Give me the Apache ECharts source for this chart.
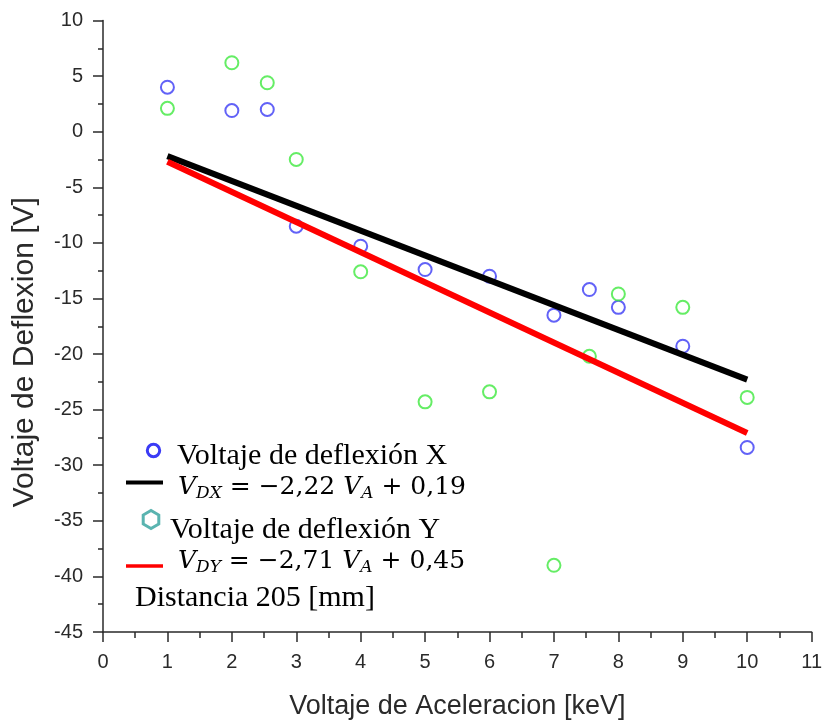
<!DOCTYPE html>
<html>
<head>
<meta charset="utf-8">
<script src="https://cdn.jsdelivr.net/npm/echarts@6/dist/echarts.min.js"></script>
<style>html,body{margin:0;padding:0;background:#fff}#c{width:825px;height:725px}</style>
</head>
<body>
<div id="c"></div>
<script>
// Data
var xValsX = [1, 2, 2.55, 3, 4, 5, 6, 7, 7.55, 8, 9, 10];
var yValsX = [4, 1.9, 2.0, -8.5, -10.3, -12.4, -13.0, -16.5, -14.2, -15.8, -19.3, -28.4];
var xValsY = [1, 2, 2.55, 3, 4, 5, 6, 7, 7.55, 8, 9, 10];
var yValsY = [2.1, 6.2, 4.4, -2.5, -12.6, -24.3, -23.4, -39.0, -20.2, -14.6, -15.8, -23.9];
var fitX = [[1, -2.2], [10, -22.3]];
var fitY = [[1, -2.7], [10, -27.1]];
var xTicks = {min: 0, max: 11, interval: 1};
var yTicks = {min: -45, max: 10, interval: 5};
var xTitle = 'Voltaje de Aceleracion [keV]';
var yTitle = 'Voltaje de Deflexion [V]';
var legendLabels = ['Voltaje de deflexión X', 'Voltaje de deflexión Y', 'Distancia 205 [mm]'];
var formulaX = '{v|V}{s|DX}{n| = −2,22 }{v|V}{s|A}{n| + 0,19}';
var formulaY = '{v|V}{s|DY}{n| = −2,71 }{v|V}{s|A}{n| + 0,45}';

function pairs(xs, ys) { return xs.map(function (x, i) { return [x, ys[i]]; }); }

var chart = echarts.init(document.getElementById('c'), null, {renderer: 'canvas'});

var sans = 'Liberation Sans, Arial, sans-serif';
var axisCol = '#2a2a2a';
var rich = {
  v: {fontFamily: 'DejaVu Serif', fontStyle: 'italic', fontSize: 25, color: '#000', lineHeight: 30},
  s: {fontFamily: 'DejaVu Serif', fontStyle: 'italic', fontSize: 17, color: '#000', lineHeight: 14, verticalAlign: 'bottom'},
  n: {fontFamily: 'DejaVu Serif', fontSize: 25, color: '#000', lineHeight: 30}
};

var hex = [];
for (var k = 0; k < 6; k++) {
  var a = Math.PI / 6 + k * Math.PI / 3;
  hex.push([151 + 9 * Math.cos(a), 519.5 + 9 * Math.sin(a)]);
}

chart.setOption({
  animation: false,
  backgroundColor: '#fff',
  grid: {left: 103, right: 9, top: 20.5, bottom: 92.5, containLabel: false},
  xAxis: {
    type: 'value', min: xTicks.min, max: xTicks.max, interval: xTicks.interval,
    name: xTitle, nameLocation: 'middle', nameGap: 61,
    nameTextStyle: {fontFamily: sans, fontSize: 27, color: axisCol},
    axisLine: {show: true, onZero: false, lineStyle: {color: axisCol, width: 1.5}},
    axisTick: {show: true, inside: false, length: 10, lineStyle: {color: axisCol, width: 1.5}},
    minorTick: {show: true, splitNumber: 2, length: 6, lineStyle: {color: axisCol, width: 1.5}},
    axisLabel: {margin: 20, fontFamily: sans, fontSize: 20, color: axisCol},
    splitLine: {show: false}
  },
  yAxis: {
    type: 'value', min: yTicks.min, max: yTicks.max, interval: yTicks.interval,
    name: yTitle, nameLocation: 'middle', nameGap: 63,
    nameTextStyle: {fontFamily: sans, fontSize: 30, color: axisCol, padding: [0, 52, 0, 0]},
    axisLine: {show: true, onZero: false, lineStyle: {color: axisCol, width: 1.5}},
    axisTick: {show: true, inside: false, length: 10, lineStyle: {color: axisCol, width: 1.5}},
    minorTick: {show: true, splitNumber: 2, length: 5, lineStyle: {color: axisCol, width: 1.5}},
    axisLabel: {margin: 20, fontFamily: sans, fontSize: 20, color: axisCol},
    splitLine: {show: false}
  },
  series: [
    {type: 'scatter', data: pairs(xValsX, yValsX), symbol: 'circle', symbolSize: 13,
     itemStyle: {color: 'rgba(0,0,0,0)', borderColor: '#3b3bf5', borderWidth: 2}, z: 2},
    {type: 'scatter', data: pairs(xValsY, yValsY), symbol: 'circle', symbolSize: 13,
     itemStyle: {color: 'rgba(0,0,0,0)', borderColor: '#3ee83e', borderWidth: 2}, z: 2},
    {type: 'line', data: fitX, showSymbol: false, lineStyle: {color: '#000', width: 6}, z: 3},
    {type: 'line', data: fitY, showSymbol: false, lineStyle: {color: '#ff0000', width: 6}, z: 3}
  ],
  graphic: [
    {type: 'circle', shape: {cx: 153.5, cy: 450.5, r: 6.2}, style: {fill: 'none', stroke: '#3b3bf5', lineWidth: 3}},
    {type: 'text', left: 177, top: 441, style: {text: legendLabels[0], font: '30px "Liberation Serif"', fill: '#000'}},
    {type: 'line', shape: {x1: 126, y1: 482.5, x2: 163, y2: 482.5}, style: {stroke: '#000', lineWidth: 4}},
    {type: 'text', left: 178, top: 475, style: {text: formulaX, rich: rich}},
    {type: 'polygon', shape: {points: hex}, style: {fill: 'none', stroke: '#5ab4b0', lineWidth: 3}},
    {type: 'text', left: 170, top: 515, style: {text: legendLabels[1], font: '30px "Liberation Serif"', fill: '#000'}},
    {type: 'line', shape: {x1: 126, y1: 566, x2: 163, y2: 566}, style: {stroke: '#ff0000', lineWidth: 3.5}},
    {type: 'text', left: 178, top: 549, style: {text: formulaY, rich: rich}},
    {type: 'text', left: 135, top: 583, style: {text: legendLabels[2], font: '30px "Liberation Serif"', fill: '#000'}}
  ]
});
</script>
</body>
</html>
